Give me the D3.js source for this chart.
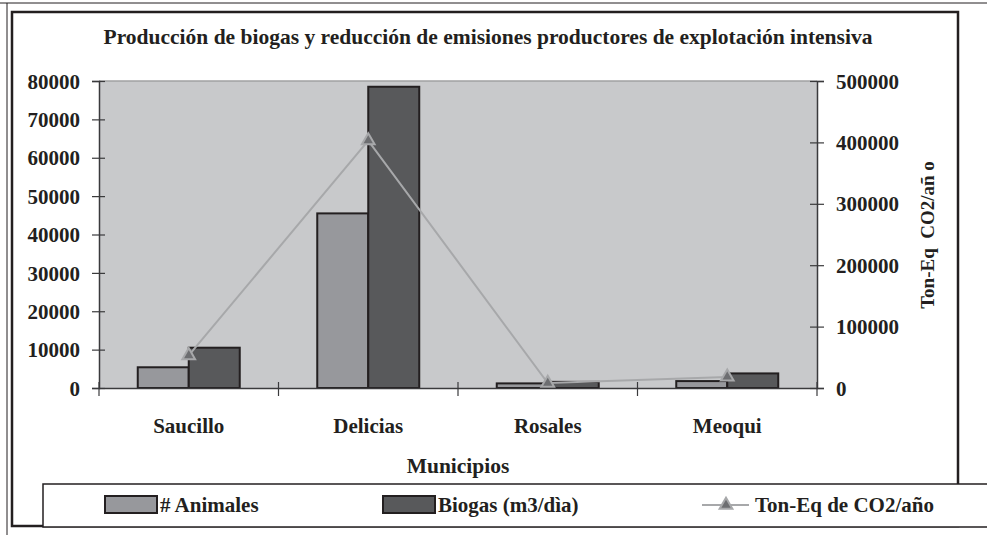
<!DOCTYPE html>
<html>
<head>
<meta charset="utf-8">
<script src="https://cdn.jsdelivr.net/npm/d3@7"></script>
<style>
  body { margin: 0; background: #fff; }
  svg text { font-family: "Liberation Serif", "Times New Roman", serif; font-weight: bold; fill: #231f20; }
</style>
</head>
<body>
<div id="chart"></div>
<script>
var categories = ["Saucillo", "Delicias", "Rosales", "Meoqui"];
var animales = [5400, 45500, 1200, 1800];
var biogas = [10500, 78500, 1600, 3800];
var co2 = [53000, 403000, 8000, 18000];
var leftTicks = [0, 10000, 20000, 30000, 40000, 50000, 60000, 70000, 80000];
var rightTicks = [0, 100000, 200000, 300000, 400000, 500000];

var W = 987, H = 535;
var plot = { left: 99, right: 817, top: 81, bottom: 388 };

var svg = d3.select("#chart").append("svg")
  .attr("width", W).attr("height", H);

// page lines and chart frame
svg.append("line").attr("x1", 0).attr("x2", W).attr("y1", 3).attr("y2", 3).attr("stroke", "#231f20").attr("stroke-width", 1);
svg.append("line").attr("x1", 7).attr("x2", 7).attr("y1", 3).attr("y2", H).attr("stroke", "#231f20").attr("stroke-width", 1);
svg.append("rect").attr("x", 12).attr("y", 12).attr("width", 946).attr("height", 514)
  .attr("fill", "#fff").attr("stroke", "#231f20").attr("stroke-width", 2.5);

var x0 = d3.scaleBand().domain(categories).range([plot.left, plot.right]).padding(0);
var x1 = d3.scaleBand().domain(["animales", "biogas"]).range([0, x0.bandwidth()]).paddingInner(0).paddingOuter(0.76);
var yL = d3.scaleLinear().domain([0, 80000]).range([plot.bottom, plot.top]);
var yR = d3.scaleLinear().domain([0, 500000]).range([plot.bottom, plot.top]);

// plot background
svg.append("rect").attr("x", plot.left).attr("y", plot.top)
  .attr("width", plot.right - plot.left).attr("height", plot.bottom - plot.top)
  .attr("fill", "#c8c9cb");
svg.append("line").attr("x1", plot.left).attr("x2", plot.right).attr("y1", plot.top).attr("y2", plot.top)
  .attr("stroke", "#a0a0a2").attr("stroke-width", 1.5);

// title
svg.append("text").attr("x", 488).attr("y", 44).attr("text-anchor", "middle")
  .style("font-size", "21.5px")
  .text("Producción de biogas y reducción de emisiones productores de explotación intensiva");

// bars
var rows = categories.map(function (c, i) {
  return { cat: c, vals: [{ key: "animales", v: animales[i] }, { key: "biogas", v: biogas[i] }] };
});
var colors = { animales: "#97989c", biogas: "#58595b" };
svg.append("g").selectAll("g").data(rows).enter().append("g")
  .attr("transform", function (d) { return "translate(" + x0(d.cat) + ",0)"; })
  .selectAll("rect").data(function (d) { return d.vals; }).enter()
  .append("rect")
  .attr("x", function (d) { return x1(d.key); })
  .attr("y", function (d) { return yL(d.v); })
  .attr("width", x1.bandwidth())
  .attr("height", function (d) { return yL(0) - yL(d.v); })
  .attr("fill", function (d) { return colors[d.key]; })
  .attr("stroke", "#231f20").attr("stroke-width", 2);

// left axis
var gL = svg.append("g").attr("transform", "translate(" + plot.left + ",0)")
  .call(d3.axisLeft(yL).tickValues(leftTicks).tickSize(7).tickPadding(12).tickFormat(d3.format("d")));
gL.select(".domain").attr("stroke", "#3a3a3c").attr("stroke-width", 1.5);
gL.selectAll(".tick line").attr("x1", 6).attr("x2", -7).attr("stroke", "#3a3a3c").attr("stroke-width", 1.2);
gL.selectAll(".tick text").style("font-size", "21px").attr("fill", "#231f20").attr("dy", "0.34em");

// right axis
var gR = svg.append("g").attr("transform", "translate(" + plot.right + ",0)")
  .call(d3.axisRight(yR).tickValues(rightTicks).tickSize(7).tickPadding(12).tickFormat(d3.format("d")));
gR.select(".domain").attr("stroke", "#3a3a3c").attr("stroke-width", 1.5);
gR.selectAll(".tick line").attr("x1", -7).attr("x2", 7).attr("stroke", "#3a3a3c").attr("stroke-width", 1.2);
gR.selectAll(".tick text").style("font-size", "21px").attr("fill", "#231f20").attr("dy", "0.34em");

// bottom axis with ticks at band edges
var gB = svg.append("g").attr("transform", "translate(0," + plot.bottom + ")")
  .call(d3.axisBottom(x0).tickSize(0).tickPadding(30));
gB.select(".domain").attr("stroke", "#3a3a3c").attr("stroke-width", 1.5);
gB.selectAll(".tick text").style("font-size", "21px").attr("fill", "#231f20");
var edges = categories.map(function (c) { return x0(c); }).concat([plot.right]);
gB.selectAll(".edge").data(edges).enter().append("line")
  .attr("x1", function (d) { return d; }).attr("x2", function (d) { return d; })
  .attr("y1", -6).attr("y2", 8).attr("stroke", "#3a3a3c").attr("stroke-width", 1.2);

// axis titles
svg.append("text").attr("x", (plot.left + plot.right) / 2).attr("y", 473).attr("text-anchor", "middle")
  .style("font-size", "21.5px").text("Municipios");
svg.append("text").attr("transform", "translate(934,235) rotate(-90)").attr("text-anchor", "middle")
  .style("font-size", "19px").style("white-space", "pre").text("Ton-Eq  CO2/añ o");

// CO2 line
var line = d3.line()
  .x(function (d, i) { return x0(categories[i]) + x0.bandwidth() / 2; })
  .y(function (d) { return yR(d); });
svg.append("path").datum(co2).attr("d", line)
  .attr("fill", "none").attr("stroke", "#a7a8aa").attr("stroke-width", 2);
var tri = d3.symbol().type(d3.symbolTriangle).size(70);
svg.selectAll(".mk").data(co2).enter().append("path")
  .attr("d", tri)
  .attr("transform", function (d, i) { return "translate(" + (x0(categories[i]) + x0.bandwidth() / 2) + "," + yR(d) + ")"; })
  .attr("fill", "#6d6e71").attr("stroke", "#a7a8aa").attr("stroke-width", 2);

// legend
var lg = svg.append("g");
lg.append("rect").attr("x", 43).attr("y", 484).attr("width", W).attr("height", 43)
  .attr("fill", "#fff").attr("stroke", "#231f20").attr("stroke-width", 1.5);
var legendItems = [
  { label: "# Animales", type: "bar", color: colors.animales, x: 105 },
  { label: "Biogas (m3/dìa)", type: "bar", color: colors.biogas, x: 383 },
  { label: "Ton-Eq de CO2/año", type: "line", x: 702 }
];
legendItems.forEach(function (it) {
  if (it.type === "bar") {
    lg.append("rect").attr("x", it.x).attr("y", 496).attr("width", 52).attr("height", 17)
      .attr("fill", it.color).attr("stroke", "#231f20").attr("stroke-width", 2);
    lg.append("text").attr("x", it.x + 55).attr("y", 512).style("font-size", "21px").text(it.label);
  } else {
    lg.append("line").attr("x1", it.x).attr("x2", it.x + 47).attr("y1", 505).attr("y2", 505)
      .attr("stroke", "#a7a8aa").attr("stroke-width", 2);
    lg.append("path").attr("d", tri).attr("transform", "translate(" + (it.x + 24) + ",505)")
      .attr("fill", "#6d6e71").attr("stroke", "#a7a8aa").attr("stroke-width", 2);
    lg.append("text").attr("x", it.x + 53).attr("y", 512).style("font-size", "21px").text(it.label);
  }
});
</script>
</body>
</html>
